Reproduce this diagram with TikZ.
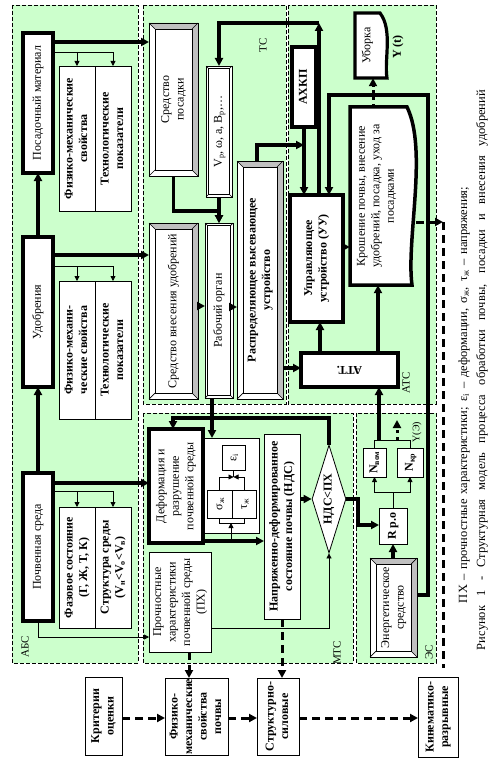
\documentclass[tikz,border=0pt]{standalone}
\usepackage{fontspec}
\setmainfont{Liberation Serif}
\usepackage{graphicx}
\usetikzlibrary{arrows.meta,calc,shapes.geometric}
\definecolor{pgreen}{RGB}{204,255,204}
\definecolor{bgray}{RGB}{192,192,192}
\newcommand{\rt}[1]{\rotatebox{90}{\begin{tabular}{@{}c@{}}#1\end{tabular}}}
\newcommand{\bfont}{\fontsize{12}{14.5}\selectfont}
\newcommand{\bevbox}[9]{%
  \node[bevn, font=#8, rect={#2}{#3}{#4}{#5}] (#1) {\rt{#9}};
  \fill[#7] (#1.north west) -- (#1.north east) -- ($(#1.north east)+(-#6,#6)$) -- ($(#1.north west)+(#6,#6)$) -- cycle;
  \fill[#7] (#1.north east) -- (#1.south east) -- ($(#1.south east)+(-#6,-#6)$) -- ($(#1.north east)+(-#6,#6)$) -- cycle;
  \draw[bevl] (#1.north west) rectangle (#1.south east);
  \draw[bevl] ($(#1.north west)+(#6,#6)$) rectangle ($(#1.south east)+(-#6,-#6)$);
  \draw[bevl] (#1.north west) -- ++(#6,#6) (#1.north east) -- ++(-#6,#6) (#1.south east) -- ++(-#6,-#6) (#1.south west) -- ++(#6,-#6);
}
\tikzset{
 rect/.style n args={4}{at={({(#1+#3)/2},{(#2+#4)/2})}, minimum width={(#3)-(#1)}, minimum height={(#4)-(#2)}},
 panel/.style={draw=black, fill=pgreen, line width=0.8pt, dash pattern=on 4pt off 2pt},
 bx/.style={draw, fill=white, inner sep=0pt, outer sep=0pt, line width=0.9pt, font=\bfont},
 bbx/.style={bx, font=\bfont\bfseries},
 tbx/.style={bx, line width=3.5pt},
 tbbx/.style={bbx, line width=3.5pt},
 bevn/.style={fill=white, inner sep=0pt, outer sep=0pt},
 bevl/.style={line width=0.7pt},
 thk/.style={line width=3.2pt, -{Triangle[length=8pt,width=8pt]}},
 thn/.style={line width=0.8pt, -{Triangle[length=5pt,width=5pt]}},
 thnl/.style={line width=0.8pt},
 dsh/.style={line width=3pt, dash pattern=on 8pt off 5pt, -{Triangle[length=8pt,width=8pt]}},
 dshl/.style={line width=3pt, dash pattern=on 8pt off 5pt},
 dotarr/.style={line width=3pt, dash pattern=on 3pt off 4pt, -{Triangle[length=8pt,width=8pt]}},
 lbl/.style={font=\fontsize{11}{13}\selectfont, inner sep=0pt, rotate=90},
}
\begin{document}
\begin{tikzpicture}[x=1pt,y=-1pt]
\useasboundingbox (0,0) rectangle (499,773);
\fill[white] (0,0) rectangle (499,773);
% panels
\draw[panel] (12,5) rectangle (138,663);
\draw[panel] (143,5) rectangle (286,404);
\draw[panel] (288,5) rectangle (436,404);
\draw[panel] (143,413) rectangle (353,663);
\draw[panel] (356,413) rectangle (436,663);
\node[lbl] (lABS) at (25,647) {АБС};
\node[lbl] (lTS) at (263,45) {ТС};
\node[lbl] (lATS) at (406,383) {АТС};
\node[lbl] (lMTS) at (337,653) {МТС};
\node[lbl] (lES) at (429,652) {ЭС};
% ABS
\node[tbx, rect={23}{33}{53}{173}] (pm) {\rt{Посадочный материал}};
\node[bbx, rect={59}{66}{95}{211}] (fm1) {\rt{Физико-механические\\свойства}};
\node[bbx, rect={95}{66}{131}{211}] (tp1) {\rt{Технологические\\показатели}};
\node[tbx, rect={23}{237}{53}{387}] (ud) {\rt{Удобрения}};
\node[bbx, rect={59}{281}{95}{419}] (fm2) {\rt{Физико-механи-\\ческие свойства}};
\node[bbx, rect={95}{281}{131}{419}] (tp2) {\rt{Технологические\\показатели}};
\node[tbx, rect={23}{473}{53}{621}] (ps) {\rt{Почвенная среда}};
\node[bbx, rect={59}{507}{95}{628}] (fs) {\rt{Фазовое состояние\\(Г, Ж, Т, К)}};
\node[bbx, rect={95}{507}{131}{628}] (ss) {\rt{Структура среды\\(V\textsubscript{н}<V\textsubscript{о}<V\textsubscript{в})}};
% TS
\bevbox{sp}{149}{23}{198}{176}{6}{bgray}{\bfont}{Средство\\посадки}
\bevbox{vb}{206}{66}{232}{197}{2.5}{white}{\bfont}{V\textsubscript{р}, ω, a, B\textsubscript{р},…}
\bevbox{sv}{149}{223}{198}{399}{6}{bgray}{\bfont}{Средство внесения удобрений}
\bevbox{ro}{205}{223}{233}{398}{2.5}{white}{\bfont}{Рабочий орган}
\bevbox{rv}{237}{161}{283}{399}{6}{bgray}{\bfont\bfseries}{Распределяющее высевающее\\устройство}
% ATS
\node[tbbx, rect={292}{47}{316}{127}] (ax) {\rt{АХКП}};
\node[tbbx, rect={290}{195}{343}{322}] (uu) {\rt{Управляющее\\устройство (УУ)}};
\node[tbbx, rect={301}{353}{398}{387}] (att) {\rotatebox{180}{АТТ.}};
\draw[line width=3.5pt, fill=white] (350,107) -- (407,107) .. controls (428,150) and (406,240) .. (412,285) -- (350,285) -- cycle;
\node[inner sep=0pt, font=\bfont, rect={350}{107}{403}{285}] (kr) {\rt{Крошение почвы, внесение\\удобрений, посадка, уход за\\посадками}};
\draw[line width=3.2pt, fill=white] (355,13) -- (380,13) .. controls (393,30) and (384,60) .. (387,78) -- (355,78) -- cycle;
\node[inner sep=0pt, font=\bfont, rect={355}{13}{380}{78}] (ub) {\rt{Уборка}};
\node[font=\bfont\bfseries, rotate=90, inner sep=0pt] (yt) at (398,47) {Y (t)};
% MTS
\node[bx, rect={203}{438}{259}{533}] (cont) {};
\node[tbx, rect={149}{429}{203}{543}] (def) {\rt{Деформация и\\разрушение\\почвенной среды}};
\node[bx, rect={222}{445}{245}{470}] (eps) {\rt{ε\textsubscript{i}}};
\node[bx, rect={207}{490}{232}{518}] (sig) {\rt{σ\textsubscript{ж}}};
\node[bx, rect={232}{490}{256}{518}] (tau) {\rt{τ\textsubscript{ж}}};
\node[bbx, rect={264}{434}{300}{619}] (nds) {\rt{Напряженно-деформированное\\состояние почвы (НДС)}};
\node[diamond, draw, fill=white, line width=0.8pt, shape aspect=0.315, minimum width=34pt, minimum height=108pt, inner sep=0pt, font=\bfont\bfseries] (dia) at (329,499) {\rotatebox{90}{НДС<ПХ}};
\node[bx, rect={149}{552}{211}{652}] (px) {\rt{Прочностные\\характеристики\\почвенной среды\\(ПХ)}};
% ES
\bevbox{es}{370}{558}{417}{657}{6}{bgray}{\bfont}{Энергетическое\\средство}
\node[bbx, rect={379}{508}{407}{544}] (rpo) {\rt{R р.о}};
\node[bbx, rect={363}{448}{386}{477}] (nv) {\rt{N\textsubscript{вом}}};
\node[bbx, rect={397}{448}{423}{477}] (nk) {\rt{N\textsubscript{кр}}};
\node[font=\fontsize{10}{12}\selectfont, rotate=90, inner sep=0pt] (ye) at (417,432) {Y(Э)};
% bottom row
\node[bbx, rect={85}{677}{122}{755}] (ko) {\rt{Критерии\\оценки}};
\node[bbx, rect={165}{678}{228}{755}] (fmp) {\rt{Физико-\\механические\\свойства\\почвы}};
\node[bbx, rect={257}{678}{299}{755}] (ssl) {\rt{Структурно-\\силовые}};
\node[bbx, rect={418}{677}{458}{757}] (kin) {\rt{Кинематико-\\разрывные}};
% captions
\node[rotate=90, inner sep=0pt, font=\fontsize{12.5}{14}\selectfont] (cap1) at (464,395) {\makebox[416pt][s]{ПХ – прочностные характеристики; ε\textsubscript{i} – деформации, σ\textsubscript{ж}, τ\textsubscript{ж} – напряжения;}};
\node[rotate=90, inner sep=0pt, font=\fontsize{12.5}{14}\selectfont] (cap2) at (482,370) {\makebox[560pt][s]{Рисунок 1 - Структурная модель процесса обработки почвы, посадки и внесения удобрений}};
% coordinates
\coordinate (c1) at (319,23);
\coordinate (krE) at (416,222);
\coordinate (dc) at (443,222);
\coordinate (de) at (443,668);
\coordinate (jn) at (379,440);
\coordinate (yd) at (397,420);
% ABS connectors
\draw[thk] (pm.east |- 0,42) -- (sp.west |- 0,42);
\draw[thn] (pm.east |- 0,52) -| (tp1.north);
\draw[thn] (fm1.north |- 0,52) -- (fm1.north);
\draw[thk] (ud.north) -- (pm.south);
\draw[thk] (ud.east |- 0,255) -- (sv.west |- 0,255);
\draw[thn] (ud.east |- 0,266) -| (tp2.north);
\draw[thn] (fm2.north |- 0,266) -- (fm2.north);
\draw[thk] (ps.north) -- (ud.south);
\draw[thk] (ps.east |- 0,483) -- (def.west |- 0,483);
\draw[thn] (ps.east |- 0,491) -| (ss.north);
\draw[thn] (fs.north |- 0,491) -- (fs.north);
\draw[thn] (ps.south) |- (px.west |- 0,637);
% TS connectors
\draw[thk] (sp.south) -- (sp.south |- 0,211) -- (ro.north |- 0,211) -- (ro.north);
\draw[thk] (vb.south) -- (ro.north);
\draw[thk] (uu.north -| c1) -- (c1);
\draw[thk] (c1) -- (vb.north |- c1) -- (vb.north);
\draw[thk] (sv.east |- 0,306) -- (ro.west |- 0,306);
\draw[thk] (ro.east |- 0,307) -- (rv.west |- 0,307);
\draw[thk] (rv.north -| 257,0) -- (257,145) -- (ax.south |- 0,145);
\draw[thk] (ax.south) -- (ax.south |- uu.north);
\draw[thk] (rv.east |- 0,368) -- (att.west |- 0,368);
\draw[thk] (att.north -| 320,0) -- (uu.south -| 320,0);
\draw[thk] (att.north -| 378,0) -- (kr.south -| 378,0);
\draw[thk] (uu.east |- 0,247) -- (kr.west |- 0,247);
\draw[thk] (es.east |- 0,595) -- (428,595) -- (428,95) -- (329,95) -- (uu.north -| 329,0);
\draw[dotarr] (kr.north -| 373,0) -- (ub.south -| 373,0);
\draw[dsh] (krE) -- (dc);
\draw[dshl] (dc) -- (de);
% MTS connectors
\draw[thk] (ro.south -| 212,0) -- (cont.north -| 212,0);
\draw[thk] (dia.north) -- (dia.north |- 0,418) -- (173,418) -- (def.north -| 173,0);
\draw[thn] (sig.north) |- (eps.south |- 0,477);
\draw[thn] (tau.north) |- (eps.south |- 0,477);
\draw[thnl] (eps.south |- 0,477) -- (eps.south);
\draw[thnl] (sig.south) -- (sig.south |- 0,523) -- (tau.south |- 0,523) -- (tau.south);
\draw[thn] (def.east |- 0,539) -| (231,523);
\draw[thk] (def.east |- 0,541) -- (nds.west |- 0,541);
\draw[thk] (nds.east |- dia.west) -- (dia.west);
\draw[thn] (px.east |- 0,628) -| (dia.south);
\draw[thk] (dia.east) -- (358,499) -- (358,525) -- (rpo.west |- 0,525);
% ES connectors
\draw[thk] (es.north -| rpo.south) -- (rpo.south);
\draw[thn] (rpo.north) |- (nv.south |- 0,492) -- (nv.south);
\draw[thn] (rpo.north) |- (nk.south |- 0,492) -- (nk.south);
\draw[thnl] (nv.north) -- (nv.north |- 0,440) -- (nk.north |- 0,440) -- (nk.north);
\draw[thk] (jn) -- (att.south -| jn);
\draw[dotarr] (yd |- jn) -- (yd);
% bottom connectors
\draw[dsh] (ko.east |- 0,718) -- (fmp.west |- 0,718);
\draw[dsh] (fmp.east |- 0,718) -- (ssl.west |- 0,718);
\draw[dsh] (ssl.east |- 0,718) -- (kin.west |- 0,718);
\draw[dsh] (px.south -| 189,0) -- (fmp.north -| 189,0);
\draw[dsh] (nds.south -| 282,0) -- (ssl.north -| 282,0);
\end{tikzpicture}
\end{document}
